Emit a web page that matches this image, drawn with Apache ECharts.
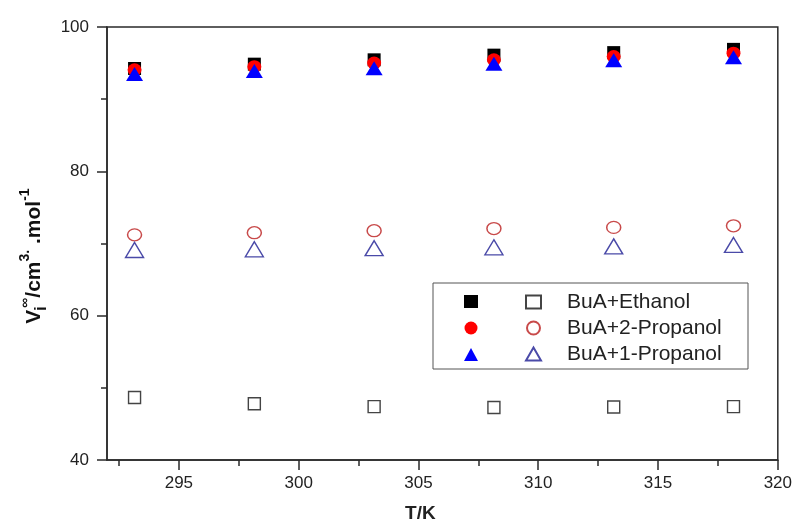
<!DOCTYPE html>
<html>
<head>
<meta charset="utf-8">
<script src="https://cdn.jsdelivr.net/npm/echarts@6/dist/echarts.min.js"></script>
<style>html,body{margin:0;padding:0;background:#fff;}#c{width:795px;height:528px;}</style>
</head>
<body>
<div id="c"></div>
<script>
const temps = [293.15, 298.15, 303.15, 308.15, 313.15, 318.15];
const ethanolFilled = [94.25, 94.85, 95.45, 96.1, 96.45, 96.9];
const propanol2Filled = [94.07, 94.5, 95.0, 95.45, 95.9, 96.37];
const propanol1Filled = [93.5, 93.9, 94.3, 94.9, 95.4, 95.8];
const ethanolHollow = [48.66, 47.8, 47.4, 47.28, 47.35, 47.4];
const propanol2Hollow = [71.2, 71.5, 71.77, 72.07, 72.23, 72.45];
const propanol1Hollow = [69.1, 69.2, 69.35, 69.47, 69.6, 69.8];
const seriesNames = ['BuA+Ethanol', 'BuA+2-Propanol', 'BuA+1-Propanol'];
const xTickValues = [295, 300, 305, 310, 315, 320];

function pts(ys) { return temps.map((t, i) => [t, ys[i]]); }
const FONT = '"Liberation Sans", Arial, sans-serif';
const axisCol = '#2a2a2a';

const filledNames = seriesNames.map(n => n + ' (filled)');

const chart = echarts.init(document.getElementById('c'), null, {renderer: 'canvas'});
chart.setOption({
  animation: false,
  backgroundColor: '#fff',
  grid: {left: 107, top: 27, right: 17, bottom: 66, show: true, borderColor: axisCol, borderWidth: 1.5, backgroundColor: 'transparent'},
  xAxis: {
    type: 'value', min: 292, max: 320,
    name: 'T/K', nameLocation: 'middle', nameGap: 44,
    nameTextStyle: {fontFamily: FONT, fontWeight: 'bold', fontSize: 19, color: '#222', padding: [0, 44, 0, 0]},
    axisLine: {show: true, lineStyle: {color: axisCol, width: 1.5}},
    axisTick: {show: true, inside: false, length: 10, lineStyle: {color: axisCol, width: 1.5}, customValues: xTickValues},
    minorTick: {show: true, splitNumber: 2, length: 6, lineStyle: {color: axisCol, width: 1.5}},
    axisLabel: {fontFamily: FONT, fontSize: 17, color: '#222', margin: 15, customValues: xTickValues,
      formatter: v => (Math.abs(v % 5) < 1e-9 ? String(v) : '')},
    splitLine: {show: false}
  },
  yAxis: {
    type: 'value', min: 40, max: 100, interval: 20,
    name: '{b|V}{sub|i}{sup|∞}{b|/cm}{sup|3.}{b| .mol}{sup|-1}',
    nameLocation: 'middle', nameGap: 57,
    nameTextStyle: {
      fontFamily: FONT, color: '#111', padding: [0, 25, 0, 0],
      rich: {
        b: {fontFamily: FONT, fontWeight: 'bold', fontSize: 21, lineHeight: 32, verticalAlign: 'middle', color: '#111'},
        sub: {fontFamily: FONT, fontWeight: 'bold', fontSize: 16, lineHeight: 16, verticalAlign: 'bottom', color: '#111', width: 2},
        sup: {fontFamily: FONT, fontWeight: 'bold', fontSize: 14, lineHeight: 14, verticalAlign: 'top', color: '#111'}
      }
    },
    axisLine: {show: true, lineStyle: {color: axisCol, width: 1.5}},
    axisTick: {show: true, inside: false, length: 10, lineStyle: {color: axisCol, width: 1.5}},
    minorTick: {show: true, splitNumber: 2, length: 6, lineStyle: {color: axisCol, width: 1.5}},
    axisLabel: {fontFamily: FONT, fontSize: 17, color: '#222', margin: 18},
    splitLine: {show: false}
  },
  legend: [
    {
      orient: 'vertical', left: 433, top: 283,
      padding: [12, 265, 8, 31],
      borderColor: '#555', borderWidth: 1, backgroundColor: '#fff',
      itemWidth: 14, itemHeight: 13, itemGap: 13.5,
      data: filledNames,
      formatter: () => '',
      textStyle: {fontSize: 12, lineHeight: 13},
      selectedMode: false
    },
    {
      orient: 'vertical', left: 525, top: 283,
      padding: [8.5, 0, 0, 0],
      borderWidth: 0,
      itemWidth: 15, itemHeight: 13, itemGap: 5,
      data: seriesNames,
      textStyle: {fontFamily: FONT, fontSize: 21, color: '#222', padding: [0, 0, 0, 21]},
      selectedMode: false
    }
  ],
  series: [
    {name: filledNames[0], type: 'scatter', data: pts(ethanolFilled), symbol: 'rect', symbolSize: 13, itemStyle: {color: '#000', opacity: 1}},
    {name: filledNames[1], type: 'scatter', data: pts(propanol2Filled), symbol: 'circle', symbolSize: [14, 13], itemStyle: {color: '#ff0000', opacity: 1}},
    {name: filledNames[2], type: 'scatter', data: pts(propanol1Filled), symbol: 'triangle', symbolSize: [17, 14], itemStyle: {color: '#0000ff', opacity: 1}},
    {name: seriesNames[0], type: 'scatter', data: pts(ethanolHollow), symbol: 'rect', symbolSize: 12, itemStyle: {color: 'rgba(255,255,255,0)', borderColor: '#444', borderWidth: 1.4, opacity: 1}},
    {name: seriesNames[1], type: 'scatter', data: pts(propanol2Hollow), symbol: 'circle', symbolSize: [14, 12], itemStyle: {color: 'rgba(255,255,255,0)', borderColor: '#c84a4a', borderWidth: 1.4, opacity: 1}},
    {name: seriesNames[2], type: 'scatter', data: pts(propanol1Hollow), symbol: 'triangle', symbolSize: [18, 15], itemStyle: {color: 'rgba(255,255,255,0)', borderColor: '#4a4aa8', borderWidth: 1.4, opacity: 1}}
  ]
});
</script>
</body>
</html>
